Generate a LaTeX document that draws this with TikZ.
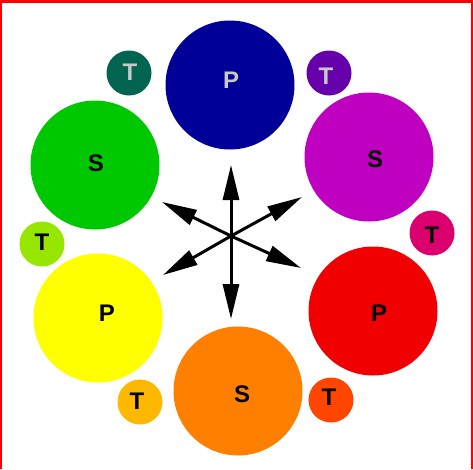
\documentclass[tikz,border=0pt]{standalone}
\usepackage{fontspec}
\setmainfont{Liberation Sans}
\usetikzlibrary{arrows.meta}

\definecolor{pblue}{RGB}{0,0,153}
\definecolor{smag}{RGB}{192,0,192}
\definecolor{pred}{RGB}{240,0,0}
\definecolor{sorange}{RGB}{255,128,0}
\definecolor{pyellow}{RGB}{255,255,0}
\definecolor{sgreen}{RGB}{0,200,0}
\definecolor{tteal}{RGB}{0,100,80}
\definecolor{tviolet}{RGB}{102,0,170}
\definecolor{truby}{RGB}{220,0,110}
\definecolor{tverm}{RGB}{255,70,0}
\definecolor{tamber}{RGB}{255,184,0}
\definecolor{tlime}{RGB}{150,230,0}
\definecolor{tgray}{RGB}{200,200,200}

\begin{document}
\begin{tikzpicture}[x=1pt, y=-1pt,
                    big/.style={circle, minimum size=129pt, inner sep=0pt},
                    small/.style={circle, minimum size=45pt, inner sep=0pt},
                    txt/.style={inner sep=0pt, font=\fontsize{24}{24}\selectfont\bfseries},
                    spoke/.style={line width=3pt, -{Triangle[length=35pt,width=16pt]}}]
\useasboundingbox (0,0) rectangle (473,469);
% frame
\fill[red] (0,0) rectangle (2,469);
\fill[red] (0,0) rectangle (473,3);
\fill[red] (471,0) rectangle (472.7,469);
% primary, secondary
\node[big, fill=pblue,   label={[txt, text=tgray, xshift=1pt, yshift=5pt]center:P}] (blueP) at (230,85) {};
\node[big, fill=smag,    label={[txt, xshift=6pt, yshift=-2pt]center:S}] (magS) at (369,157) {};
\node[big, fill=pred,    label={[txt, xshift=6pt, yshift=-2pt]center:P}] (redP) at (373,311) {};
\node[big, fill=sorange, label={[txt, xshift=4pt, yshift=-3pt]center:S}] (orangeS) at (238,391) {};
\node[big, fill=pyellow, label={[txt, xshift=9pt, yshift=5pt]center:P}] (yellowP) at (98,318) {};
\node[big, fill=sgreen,  label={[txt, xshift=1pt, yshift=2pt]center:S}] (greenS) at (95,165) {};
% tertiary
\node[small, fill=tteal,   label={[txt, text=tgray, xshift=1pt, yshift=1pt]center:T}] (tealT) at (129,73) {};
\node[small, fill=tviolet, label={[txt, text=tgray, xshift=-3pt, yshift=-3pt]center:T}] (violetT) at (329,73) {};
\node[small, fill=truby,   label={[txt, yshift=-2pt]center:T}] (rubyT) at (432,233) {};
\node[small, fill=tverm,   label={[txt, xshift=-2pt, yshift=3pt]center:T}] (vermT) at (331,400) {};
\node[small, fill=tamber,  label={[txt, xshift=-3pt, yshift=1pt]center:T}] (amberT) at (140,402) {};
\node[small, fill=tlime,   label={[txt, yshift=2pt]center:T}] (limeT) at (42,244) {};
% arrows
\coordinate (hub) at (231,236);
\coordinate (up) at (231,165);
\coordinate (dn) at (231,319);
\coordinate (ul) at (162,202);
\coordinate (ur) at (302,197);
\coordinate (ll) at (163,275);
\coordinate (lr) at (301,268);
\foreach \t in {up,dn,ul,ur,ll,lr}
  \draw[spoke] (hub) -- (\t);
\end{tikzpicture}
\end{document}
